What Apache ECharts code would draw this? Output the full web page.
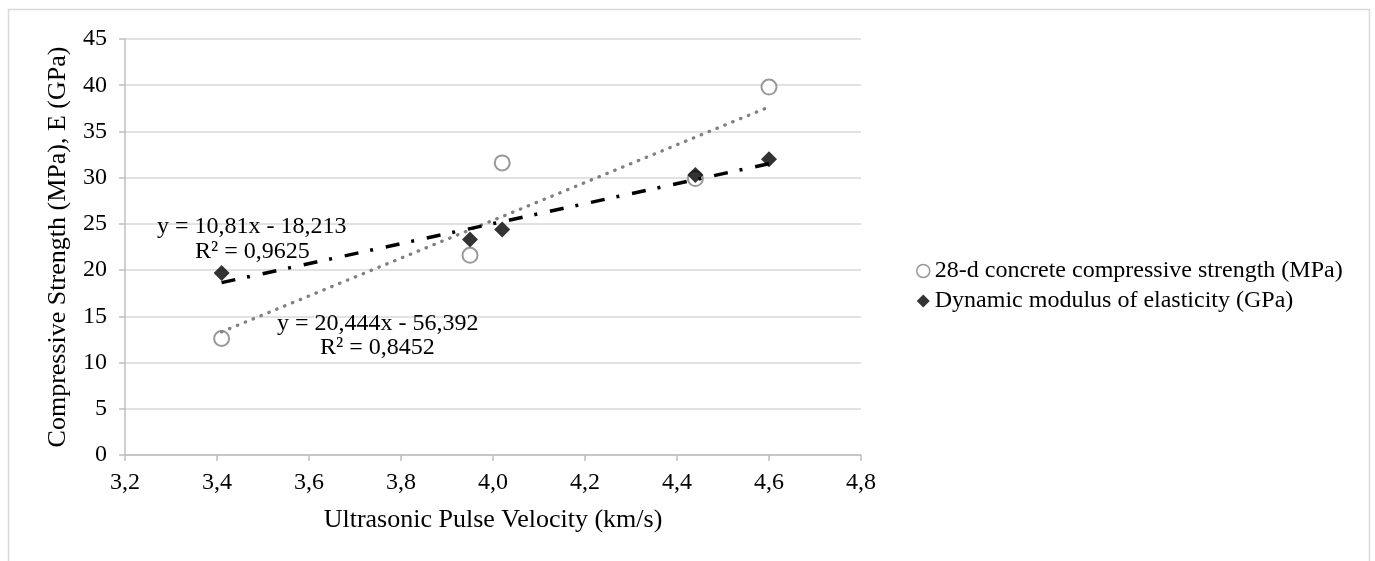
<!DOCTYPE html>
<html>
<head>
<meta charset="utf-8">
<script src="https://cdn.jsdelivr.net/npm/echarts@6/dist/echarts.min.js"></script>
<style>
html,body{margin:0;padding:0;background:#fff;}
#chart{width:1375px;height:561px;}
</style>
</head>
<body>
<div id="chart"></div>
<script>
// ---- data ----
const velocity = [3.41, 3.95, 4.02, 4.44, 4.60];
const strength = [12.6, 21.6, 31.6, 29.9, 39.8];
const modulus = [19.7, 23.3, 24.4, 30.3, 32.0];
const seriesNames = ['28-d concrete compressive strength (MPa)', 'Dynamic modulus of elasticity (GPa)'];
const strengthTrend = [20.444, -56.392];   // slope, intercept
const modulusTrend = [10.81, -18.213];
const strengthEq = ['y = 20,444x - 56,392', 'R² = 0,8452'];
const modulusEq = ['y = 10,81x - 18,213', 'R² = 0,9625'];
const xTicks = [3.2, 4.8, 0.2];
const yTicks = [0, 45, 5];

const FONT = '"Liberation Serif", "Times New Roman", serif';
const xMin = Math.min.apply(null, velocity), xMax = Math.max.apply(null, velocity);
function trend(c){ return [[xMin, c[0]*xMin + c[1]], [xMax, c[0]*xMax + c[1]]]; }
const pairs = (ys) => velocity.map((x,i)=>[x, ys[i]]);

const chart = echarts.init(document.getElementById('chart'), null, {renderer:'canvas'});
chart.setOption({
  backgroundColor:'#ffffff',
  animation:false,
  grid:{left:125, right:514, top:39, bottom:106},
  xAxis:{
    type:'value', min:xTicks[0], max:xTicks[1], interval:xTicks[2],
    name:'Ultrasonic Pulse Velocity (km/s)', nameLocation:'middle', nameGap:52,
    nameTextStyle:{fontFamily:FONT, fontSize:26, color:'#000'},
    axisLine:{show:true, lineStyle:{color:'#bfbfbf', width:1.5}},
    axisTick:{show:true, length:6, lineStyle:{color:'#bfbfbf', width:1.5}},
    axisLabel:{fontFamily:FONT, fontSize:24, color:'#000', margin:16,
      formatter:(v)=>v.toFixed(1).replace('.', ',')},
    splitLine:{show:false}
  },
  yAxis:{
    type:'value', min:yTicks[0], max:yTicks[1], interval:yTicks[2],
    name:'Compressive Strength (MPa), E (GPa)', nameLocation:'middle', nameGap:54,
    nameTextStyle:{fontFamily:FONT, fontSize:26, color:'#000'},
    axisLine:{show:true, lineStyle:{color:'#bfbfbf', width:1.5}},
    axisTick:{show:true, length:6, lineStyle:{color:'#bfbfbf', width:1.5}},
    axisLabel:{fontFamily:FONT, fontSize:24, color:'#000', margin:18},
    splitLine:{show:true, lineStyle:{color:'#d9d9d9', width:1.5}}
  },
  legend:{
    orient:'vertical', left:911, top:254, itemGap:6, itemWidth:13, itemHeight:13,
    textStyle:{fontFamily:FONT, fontSize:24, color:'#000'},
    data:[
      {name:seriesNames[0], icon:'circle', itemStyle:{color:'#fff', borderColor:'#808080', borderWidth:1.5}},
      {name:seriesNames[1], icon:'diamond', itemStyle:{color:'#000'}}
    ]
  },
  series:[
    {name:seriesNames[0], type:'scatter', data:pairs(strength), symbol:'circle', symbolSize:15,
      itemStyle:{color:'#fff', borderColor:'#808080', borderWidth:2}, z:2},
    {name:seriesNames[1], type:'scatter', data:pairs(modulus), symbol:'diamond', symbolSize:16,
      itemStyle:{color:'#000'}, z:3},
    {name:'trend1', type:'line', data:trend(strengthTrend), showSymbol:false, silent:true, z:4,
      lineStyle:{color:'#808080', width:3.3, type:[0.5, 8], cap:'round'}},
    {name:'trend2', type:'line', data:trend(modulusTrend), showSymbol:false, silent:true, z:5,
      lineStyle:{color:'#000', width:3.5, type:[14, 12, 3, 13], cap:'butt'}}
  ],
  graphic:[
    {type:'rect', shape:{x:8.5, y:9.5, width:1361, height:600}, style:{fill:'none', stroke:'#d9d9d9', lineWidth:1.5}, z:-10, silent:true},
    {type:'text', left:157, top:215, style:{text:modulusEq[0], font:'24px '+FONT, fill:'#000'}, z:10},
    {type:'text', left:195, top:240, style:{text:modulusEq[1], font:'24px '+FONT, fill:'#000'}, z:10},
    {type:'text', left:277, top:312, style:{text:strengthEq[0], font:'24px '+FONT, fill:'#000'}, z:10},
    {type:'text', left:320, top:336, style:{text:strengthEq[1], font:'24px '+FONT, fill:'#000'}, z:10}
  ]
});
</script>
</body>
</html>
